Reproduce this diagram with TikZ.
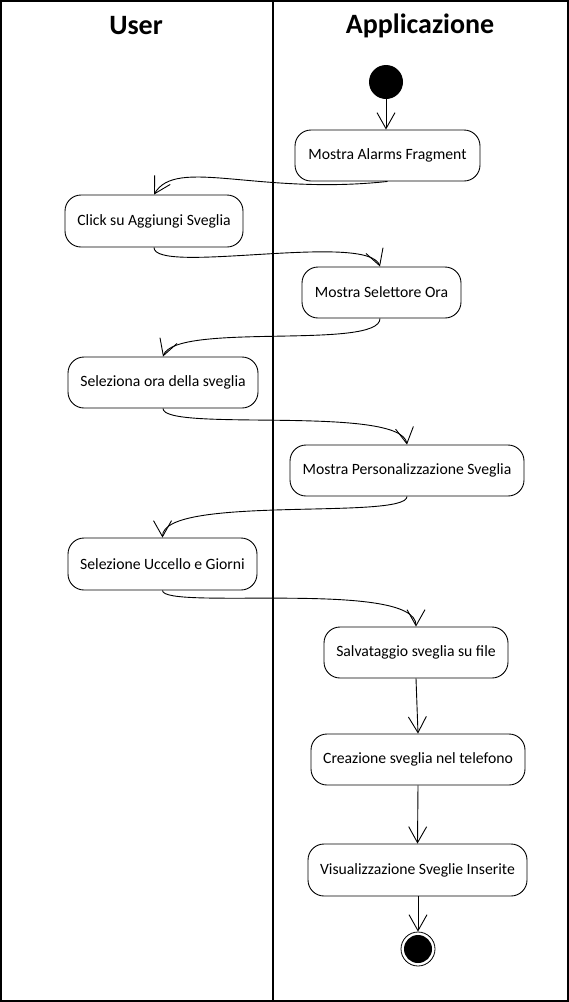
\documentclass[tikz,border=0pt]{standalone}
\usepackage{fontspec}
\setmainfont{Carlito}
\usetikzlibrary{arrows.meta}
\begin{document}
\begin{tikzpicture}[x=1pt,y=-1pt,
  act/.style={draw,line width=0.9pt,rounded corners=16pt,minimum height=51pt,inner sep=0pt,font=\fontsize{15.7}{18}\selectfont},
  hdr/.style={font=\fontsize{28}{30}\selectfont\bfseries},
  flow/.style={line width=0.9pt,-{Straight Barb[length=16pt,width=18pt,line width=0.9pt]}},
  frame/.style={line width=2pt}]
\useasboundingbox (0,0) rectangle (569,1002);
\draw[frame] (1,1) rectangle (567.5,1000.5);
\draw[frame] (273,1) -- (273,1000.5);
\node[hdr] (hu) at (136,26) {User};
\node[hdr] (ha) at (420,26) {Applicazione};
% start / end
\node[circle,fill=black,minimum size=34pt,inner sep=0pt] (start) at (386,82) {};
\node[circle,draw,line width=0.8pt,minimum size=34pt,inner sep=0pt] (end) at (418,949) {};
\node[circle,fill=black,minimum size=28pt,inner sep=0pt] (endin) at (418,949) {};
% activities
\node[act,minimum width=185pt] (n1) at (387.5,155.5) {Mostra Alarms Fragment};
\node[act,minimum width=178pt,minimum height=52pt] (n2) at (154,221) {Click su Aggiungi Sveglia};
\node[act,minimum width=159pt] (n3) at (381.5,292.5) {Mostra Selettore Ora};
\node[act,minimum width=190pt] (n4) at (163,382.5) {Seleziona ora della sveglia};
\node[act,minimum width=234pt] (n5) at (407,470.5) {Mostra Personalizzazione Sveglia};
\node[act,minimum width=189pt,minimum height=52pt] (n6) at (162.5,564) {Selezione Uccello e Giorni};
\node[act,minimum width=184pt] (n7) at (416,652.5) {Salvataggio sveglia su file};
\node[act,minimum width=214pt] (n8) at (418,759.5) {Creazione sveglia nel telefono};
\node[act,minimum width=219pt,minimum height=52pt] (n9) at (417.5,870) {Visualizzazione Sveglie Inserite};
% connectors
\draw[flow] (start.south) -- (start.south |- n1.north);
\draw[flow] (n1.south) .. controls +(-130,14) and +(22,-38) .. (n2.north);
\draw[flow] (n2.south) .. controls +(0,28) and +(-12,-35) .. ([xshift=-1.5pt]n3.north);
\draw[flow] ([xshift=-1.5pt]n3.south) .. controls +(0,32) and +(12,-35) .. (n4.north);
\draw[flow] (n4.south) .. controls +(0,24) and +(-6,-40) .. (n5.north);
\draw[flow] (n5.south) .. controls +(0,24) and +(0,-43) .. (n6.north);
\draw[flow] (n6.south) .. controls +(0,20) and +(0,-47) .. (n7.north);
\draw[flow] (n7.south) -- (n8.north);
\draw[flow] (n8.south) -- (n9.north);
\draw[flow] (n9.south -| end.north) -- (end.north);
\end{tikzpicture}
\end{document}
